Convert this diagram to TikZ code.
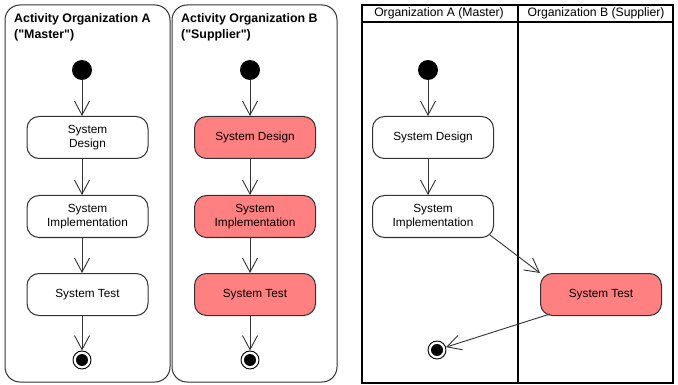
\documentclass[tikz,border=0pt]{standalone}
\usepackage{fontspec}
\setmainfont{Liberation Sans}
\usetikzlibrary{arrows.meta}
\definecolor{edge}{HTML}{333333}
\definecolor{supplier}{HTML}{FF8080}
\tikzset{
  px/.style={x=1pt,y=-1pt},
  action/.style={draw=edge,line width=1pt,rounded corners=12pt,minimum width=121pt,
    minimum height=42pt,align=center,inner sep=2pt,font=\fontsize{11.8}{14.5}\selectfont,fill=white},
  supplierbox/.style={action,fill=supplier},
  startnode/.style={circle,fill=black,minimum size=20pt,inner sep=0pt},
  endnode/.style={circle,draw=black,line width=0.9pt,minimum size=18pt,inner sep=0pt,
    path picture={\fill[black] (path picture bounding box.center) circle (6pt);}},
  flow/.style={draw=edge,line width=0.9pt,-{Straight Barb[length=14pt,width=15pt,line width=0.9pt]}},
  panel/.style={draw=edge,line width=1pt,rounded corners=15pt},
  lane/.style={draw=black,line width=2pt},
  paneltitle/.style={anchor=north west,align=left,inner sep=0pt,font=\bfseries\fontsize{12.4}{16}\selectfont},
  lanetitle/.style={inner sep=0pt,font=\fontsize{12.2}{13}\selectfont}
}
\begin{document}
\begin{tikzpicture}[px]
\useasboundingbox (0,0) rectangle (678,385);
\fill[white] (0,0) rectangle (678,385);

% Activity of organization A
\draw[panel] (5,5) rectangle (170,382);
\node[paneltitle] (ta) at (14,13) {Activity Organization A\\(\textquotedbl Master\textquotedbl)};
\node[startnode] (a0) at (82,70) {};
\node[action] (a1) at (87.5,137.5) {System\\Design};
\node[action] (a2) at (87.5,216.5) {System\\Implementation};
\node[action] (a3) at (87.5,294.5) {System Test};
\node[endnode] (a4) at (82,360) {};
\draw[flow] (a0) -- (a0 |- a1.north);
\draw[flow] (a0 |- a1.south) -- (a0 |- a2.north);
\draw[flow] (a0 |- a2.south) -- (a0 |- a3.north);
\draw[flow] (a0 |- a3.south) -- (a4);

% Activity of organization B
\draw[panel] (172,5) rectangle (337,382);
\node[paneltitle] (tb) at (181,13) {Activity Organization B\\(\textquotedbl Supplier\textquotedbl)};
\node[startnode] (b0) at (250,70) {};
\node[supplierbox] (b1) at (255,137.5) {System Design};
\node[supplierbox] (b2) at (255,216.5) {System\\Implementation};
\node[supplierbox] (b3) at (255,294.5) {System Test};
\node[endnode] (b4) at (250,360) {};
\draw[flow] (b0) -- (b0 |- b1.north);
\draw[flow] (b0 |- b1.south) -- (b0 |- b2.north);
\draw[flow] (b0 |- b2.south) -- (b0 |- b3.north);
\draw[flow] (b0 |- b3.south) -- (b4);

% Swimlanes
\draw[lane] (362,5) rectangle (673,383);
\draw[lane] (362,22) -- (673,22);
\draw[lane] (518,5) -- (518,383);
\node[lanetitle] (la) at (439,13.5) {Organization A (Master)};
\node[lanetitle] (lb) at (596,13.5) {Organization B (Supplier)};
\node[startnode] (c0) at (428,70) {};
\node[action] (c1) at (433,137.5) {System Design};
\node[action] (c2) at (433,216.5) {System\\Implementation};
\node[supplierbox] (c3) at (601,294.5) {System Test};
\node[endnode] (c4) at (437,350) {};
\draw[flow] (c0) -- (c0 |- c1.north);
\draw[flow] (c0 |- c1.south) -- (c0 |- c2.north);
\draw[flow] (c2.south east) ++(-4,-3) coordinate (c2o) (c2o) -- (c3.north west);
\draw[flow] (c3.south west) ++(10,-2) coordinate (c3o) (c3o) -- (c4);
\end{tikzpicture}
\end{document}
